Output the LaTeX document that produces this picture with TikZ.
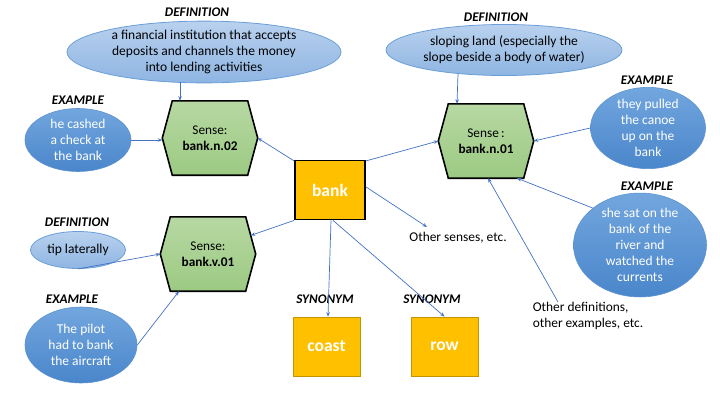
\documentclass[tikz,border=0pt]{standalone}
\usepackage{fontspec}
\setmainfont{Carlito}
\usetikzlibrary{shapes.geometric,arrows.meta,backgrounds,calc}
\definecolor{arrowblue}{HTML}{4472C4}
\definecolor{orng}{HTML}{FFC000}
\definecolor{orngdark}{HTML}{C49300}
\definecolor{deftop}{HTML}{B9D1EE}
\definecolor{defbot}{HTML}{8EB5E2}
\definecolor{defborder}{HTML}{6A9FD8}
\definecolor{extop}{HTML}{72A6DE}
\definecolor{exbot}{HTML}{4A86CB}
\definecolor{hextop}{HTML}{B7D8A3}
\definecolor{hexbot}{HTML}{9CCA82}
\newcommand{\hexpath}[1]{%
  \begin{scope}[on background layer]
  \path[top color=hextop, bottom color=hexbot, draw=black, line width=1.6pt, line join=miter]
    (#1.west) -- ([xshift=10pt]#1.north west) -- ([xshift=-10pt]#1.north east) -- (#1.east)
    -- ([xshift=-10pt]#1.south east) -- ([xshift=10pt]#1.south west) -- cycle;
  \end{scope}}
\begin{document}
\begin{tikzpicture}[x=1pt,y=-1pt,
  txt/.style={font=\fontsize{13.4}{16}\selectfont},
  hexnode/.style={minimum width=95pt, minimum height=74pt, inner sep=0pt, align=center, font=\fontsize{13.3}{16}\selectfont},
  defell/.style={ellipse, draw=defborder, line width=0.8pt, top color=deftop, bottom color=defbot, inner sep=0pt, align=center, font=\fontsize{13.5}{16}\selectfont},
  exell/.style={ellipse, draw=exbot!90!white, line width=0.6pt, top color=extop, bottom color=exbot, inner sep=0pt, align=center, text=white, font=\fontsize{13.5}{16}\selectfont},
  lbl/.style={font=\bfseries\itshape\fontsize{13.2}{15}\selectfont},
  obox/.style={rectangle, fill=orng, draw=orngdark, line width=0.8pt, text=white, font=\bfseries\fontsize{17.5}{20}\selectfont, inner sep=0pt},
  arr/.style={draw=arrowblue, line width=0.7pt, -{Stealth[length=4.5pt,width=3.5pt]}}
]
\begin{scope}[on background layer]
\fill[white] (0,0) rectangle (720,405);
\end{scope}
\useasboundingbox (0,0) rectangle (720,405);

% central word
\node[obox, draw=black, line width=1.8pt, minimum width=70pt, minimum height=59pt] (bank) at (330,190) {bank};

% senses
\node[hexnode] (n02) at (210,138) {Sense:\\\textbf{bank.n.02}};
\hexpath{n02}
\node[hexnode] (n01) at (486,141) {Sense\,:\\\textbf{bank.n.01}};
\hexpath{n01}
\node[hexnode] (v01) at (208,254) {Sense:\\\textbf{bank.v.01}};
\hexpath{v01}

% definitions and examples
\node[defell, minimum width=274pt, minimum height=59pt] (def1) at (204,52) {a financial institution that accepts\\deposits and channels the money\\into lending activities};
\node[lbl] (def1l) at (197,12) {DEFINITION};
\node[exell, minimum width=106pt, minimum height=63pt] (ex1) at (78,140) {he cashed\\a check at\\the bank};
\node[lbl] (ex1l) at (78,100) {EXAMPLE};

\node[defell, minimum width=236pt, minimum height=51pt] (def2) at (504,50) {sloping land (especially the\\slope beside a body of water)};
\node[lbl] (def2l) at (496,17) {DEFINITION};
\node[exell, minimum width=115pt, minimum height=80pt] (ex2) at (648,128) {they pulled\\the canoe\\up on the\\bank};
\node[lbl] (ex2l) at (647,80) {EXAMPLE};
\node[exell, minimum width=133pt, minimum height=94pt] (ex3) at (640,245) {she sat on the\\bank of the\\river and\\watched the\\currents};
\node[lbl] (ex3l) at (647,186) {EXAMPLE};

\node[defell, minimum width=95pt, minimum height=37pt] (def3) at (78,250) {tip laterally};
\node[lbl] (def3l) at (77,222) {DEFINITION};
\node[exell, minimum width=112pt, minimum height=76pt] (ex4) at (81,345) {The pilot\\had to bank\\the aircraft};
\node[lbl] (ex4l) at (72,299) {EXAMPLE};

% synonyms
\node[obox, minimum width=67pt, minimum height=59pt] (coast) at (326.5,346.5) {coast};
\node[lbl] (coastl) at (325,299) {SYNONYM};
\node[obox, minimum width=67pt, minimum height=59pt] (row) at (444.5,346.5) {row};
\node[lbl] (rowl) at (432,299) {SYNONYM};

% others
\node[txt] (os) at (458,238) {Other senses, etc.};
\coordinate (osend) at (427,227);
\node[txt, align=left] (od) at (588,316) {Other definitions,\\other examples, etc.};
\coordinate (odstart) at (558,302);

% connectors
\draw[arr] (bank.141) -- (n02.east);
\draw[arr] (bank.39) -- (n01.west);
\draw[arr] (bank.5) -- (osend);
\draw[arr] (bank.south west) -- ($(v01.east)!0.5!([xshift=-10pt]v01.north east)$);
\draw[arr] ([xshift=1pt]bank.south) -- ([xshift=1.5pt]coast.north);
\draw[arr] ([xshift=3pt]bank.south) -- (row.north);

\draw[arr] ([xshift=-24pt,yshift=1pt]def1.south) -- ([xshift=-30pt]n02.north);
\draw[arr] (ex1.east) -- (n02.west |- ex1.east);
\draw[arr] ([xshift=-46pt,yshift=2pt]def2.south) -- ([xshift=-29pt]n01.north);
\draw[arr] (ex2.west) -- (n01.east);
\draw[arr] (ex3.142) -- ([xshift=31pt]n01.south);
\draw[arr] (odstart) -- ([xshift=2pt]n01.south);
\draw[arr] (def3.south) -- (v01.west);
\draw[arr] (ex4.east) -- ([xshift=-29pt]v01.south);
\end{tikzpicture}
\end{document}
